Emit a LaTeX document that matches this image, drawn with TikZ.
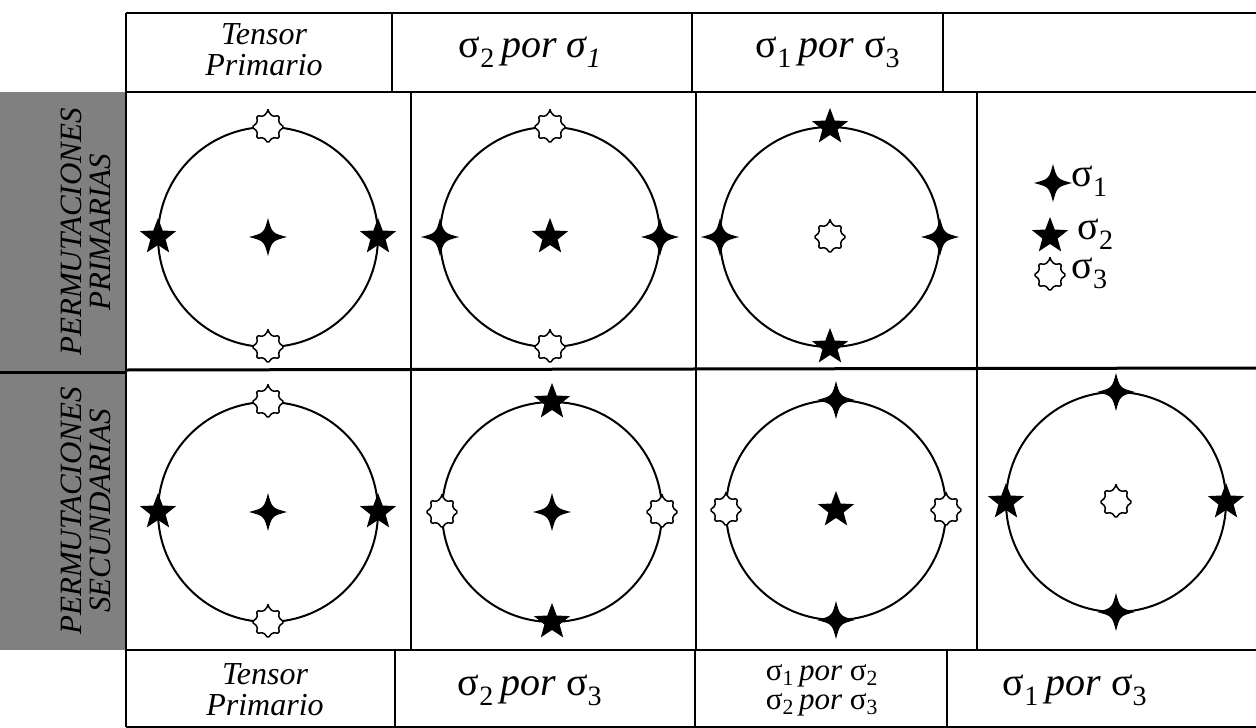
\documentclass[tikz,border=0pt]{standalone}
\usepackage{fontspec}
\setmainfont{Liberation Serif}
\usetikzlibrary{calc}

% sigma with subscript
\newcommand{\sg}[1]{{\upshape σ}\textsubscript{\upshape #1}}

\tikzset{
  sigone/.pic={\fill (0,-19) .. controls (4,-4) .. (19,0) .. controls (4,4) .. (0,19)
      .. controls (-4,4) .. (-19,0) .. controls (-4,-4) .. cycle;},
  sigtwo/.pic={\fill (270:19) \foreach \k in {0,...,4}{ -- ({306+72*\k}:8) -- ({342+72*\k}:19)} -- cycle;},
  sigthree/.pic={\filldraw[fill=white,line width=1.5pt,rounded corners=1.5pt]
      (270:16) \foreach \k in {0,...,7}{ -- ({292.5+45*\k}:11.5) -- ({315+45*\k}:16)} -- cycle;},
  rule/.style={line width=2.5pt},
  ring/.style={line width=2pt},
  tensor/.style={font=\itshape\fontsize{32}{31}\selectfont, align=center, inner sep=0pt},
  sigtext/.style={font=\itshape\fontsize{40}{40}\selectfont},
  sigsmall/.style={font=\itshape\fontsize{31}{29}\selectfont, align=center, inner sep=0pt},
  side/.style={rotate=90, align=center, text=black, font=\itshape\fontsize{31}{29}\selectfont}
}

\begin{document}
\begin{tikzpicture}[x=1pt,y=-1pt,line join=round]
  % Parameters
  \def\R{110}   % circle radius

  \useasboundingbox (0,0) rectangle (1256,728);

  % Grey side column
  \fill[black!50] (0,92) rectangle (126,650);
  \draw[line width=3pt] (0,372) -- (126,372);
  \node[side] (p1) at (86,232) {PERMUTACIONES\\PRIMARIAS};
  \node[side] (p2) at (86,511) {PERMUTACIONES\\SECUNDARIAS};

  % Table rules
  \draw[rule] (126,13) -- (1256,13);
  \draw[rule] (126,92) -- (1256,92);
  \draw[line width=3pt] (126,370) -- (1256,368);
  \draw[rule] (126,650) -- (1256,650);
  \draw[rule] (126,727) -- (1256,727);
  \draw[rule] (126,13) -- (126,727);
  % header columns
  \foreach \x in {392,692,943} \draw[rule] (\x,13) -- (\x,92);
  % body columns
  \foreach \x in {411,696,977} \draw[rule] (\x,92) -- (\x,650);
  % footer columns
  \foreach \x in {395,695,947} \draw[rule] (\x,650) -- (\x,727);

  % Header labels
  \node[tensor] (h1) at (264,50) {Tensor\\Primario};
  \node[sigtext] (h2) at (530,52) {\sg{2}\,por σ\textsubscript{1}};
  \node[sigtext] (h3) at (828,52) {\sg{1}\,por \sg{3}};

  % Footer labels
  \node[tensor] (f1) at (265,690) {Tensor\\Primario};
  \node[sigtext] (f2) at (530,690) {\sg{2}\,por \sg{3}};
  \node[sigsmall] (f3) at (822,690) {\sg{1}\,por \sg{2}\\\sg{2}\,por \sg{3}};
  \node[sigtext] (f4) at (1075,690) {\sg{1}\,por \sg{3}};

  % Centres of the circles
  \coordinate (c11) at (268,237);
  \coordinate (c12) at (550,237);
  \coordinate (c13) at (830,237);
  \coordinate (c21) at (268,512);
  \coordinate (c22) at (552,512);
  \coordinate (c23) at (836,510);
  \coordinate (c24) at (1116,502);

  % Row 1
  \draw[ring] (c11) circle[radius=\R];
  \foreach \a in {90,270} \pic at ($(c11)+(\a:\R)$) {sigthree};
  \foreach \a in {0,180} \pic at ($(c11)+(\a:\R)$) {sigtwo};
  \pic at (c11) {sigone};

  \draw[ring] (c12) circle[radius=\R];
  \foreach \a in {90,270} \pic at ($(c12)+(\a:\R)$) {sigthree};
  \foreach \a in {0,180} \pic at ($(c12)+(\a:\R)$) {sigone};
  \pic at (c12) {sigtwo};

  \draw[ring] (c13) circle[radius=\R];
  \foreach \a in {90,270} \pic at ($(c13)+(\a:\R)$) {sigtwo};
  \foreach \a in {0,180} \pic at ($(c13)+(\a:\R)$) {sigone};
  \pic at (c13) {sigthree};

  % Legend
  \pic at (1053,183) {sigone};
  \pic at (1050,236) {sigtwo};
  \pic at (1050,275) {sigthree};
  \node[sigtext, anchor=west] (l1) at (1068,181) {\sg{1}};
  \node[sigtext, anchor=west] (l2) at (1074,234) {\sg{2}};
  \node[sigtext, anchor=west] (l3) at (1068,273) {\sg{3}};

  % Row 2
  \draw[ring] (c21) circle[radius=\R];
  \foreach \a in {90,270} \pic at ($(c21)+(\a:\R)$) {sigthree};
  \foreach \a in {0,180} \pic at ($(c21)+(\a:\R)$) {sigtwo};
  \pic at (c21) {sigone};

  \draw[ring] (c22) circle[radius=\R];
  \foreach \a in {90,270} \pic at ($(c22)+(\a:\R)$) {sigtwo};
  \foreach \a in {0,180} \pic at ($(c22)+(\a:\R)$) {sigthree};
  \pic at (c22) {sigone};

  \draw[ring] (c23) circle[radius=\R];
  \foreach \a in {90,270} \pic at ($(c23)+(\a:\R)$) {sigone};
  \foreach \a in {0,180} \pic at ($(c23)+(\a:\R)$) {sigthree};
  \pic at (c23) {sigtwo};

  \draw[ring] (c24) circle[radius=\R];
  \foreach \a in {90,270} \pic at ($(c24)+(\a:\R)$) {sigone};
  \foreach \a in {0,180} \pic at ($(c24)+(\a:\R)$) {sigtwo};
  \pic at (c24) {sigthree};
\end{tikzpicture}
\end{document}
